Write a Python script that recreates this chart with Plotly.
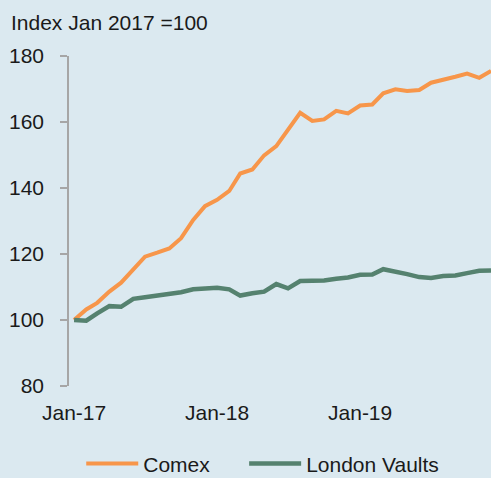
import pandas as pd
import plotly.graph_objects as go

# --- Data (index, Jan 2017 = 100), monthly Jan-17 .. Dec-19 ---
months = pd.date_range("2017-01-01", "2019-12-01", freq="MS")

comex = [100.0, 103.2, 105.2, 108.6, 111.3, 115.4, 119.2, 120.4, 121.7, 124.8, 130.3, 134.5,
         136.4, 139.1, 144.4, 145.6, 149.9, 152.7, 157.8, 162.8, 160.3, 160.8, 163.4, 162.6,
         165.0, 165.3, 168.7, 169.9, 169.4, 169.7, 171.9, 172.7, 173.7, 174.7, 173.4, 175.5]

london_vaults = [100.0, 99.8, 102.0, 104.2, 104.0, 106.4, 106.9, 107.3, 107.8, 108.4, 109.3, 109.5,
                 109.8, 109.3, 107.4, 108.1, 108.6, 110.9, 109.6, 111.8, 111.9, 112.0, 112.5, 112.9,
                 113.7, 113.8, 115.4, 114.8, 113.9, 113.0, 112.7, 113.3, 113.5, 114.2, 114.9, 115.0]

tick_vals = ["2017-01-01", "2018-01-01", "2019-01-01"]
tick_text = ["Jan-17", "Jan-18", "Jan-19"]

BG = "#dbe9f0"
AXIS = "#a6a6a6"
FONT = "Liberation Sans, Arial, sans-serif"

fig = go.Figure()

fig.add_trace(go.Scatter(
    x=months, y=comex, mode="lines", name="Comex",
    line=dict(color="#f7964a", width=4), legend="legend"
))
fig.add_trace(go.Scatter(
    x=months, y=london_vaults, mode="lines", name="London Vaults",
    line=dict(color="#55826f", width=4.5), legend="legend2"
))

leg_style = dict(
    orientation="h", xanchor="left", y=-0.236, yanchor="middle",
    bgcolor="rgba(0,0,0,0)", font=dict(size=21), itemwidth=52
)

fig.update_layout(
    width=491, height=478,
    paper_bgcolor=BG, plot_bgcolor=BG,
    margin=dict(l=69, r=0, t=56, b=92, autoexpand=False),
    font=dict(family=FONT, size=21, color="#1a1a1a"),
    title=dict(
        text="Index Jan 2017 =100",
        x=11 / 491, xanchor="left", xref="container",
        y=1 - 23 / 478, yanchor="middle", yref="container",
        font=dict(size=21, color="#1a1a1a")
    ),
    showlegend=True,
    legend=dict(x=0.029, **leg_style),
    legend2=dict(x=0.415, **leg_style),
)

fig.update_xaxes(
    range=["2016-12-19", "2019-12-01"],
    tickvals=tick_vals, ticktext=tick_text, tickangle=0,
    showgrid=False, zeroline=False, showline=False,
    ticks="", ticklabelstandoff=12
)
fig.update_yaxes(
    range=[80, 180], dtick=20, tick0=80,
    showgrid=False, zeroline=False,
    showline=True, linecolor=AXIS, linewidth=1.5,
    ticks="outside", ticklen=7, tickcolor=AXIS, tickwidth=1.5,
    ticklabelstandoff=12
)

# drop the page's default body margin so the chart fills the window
fig.write_html(
    "out.html",
    config={"displayModeBar": False},
    post_script="document.body.style.margin='0';",
)
